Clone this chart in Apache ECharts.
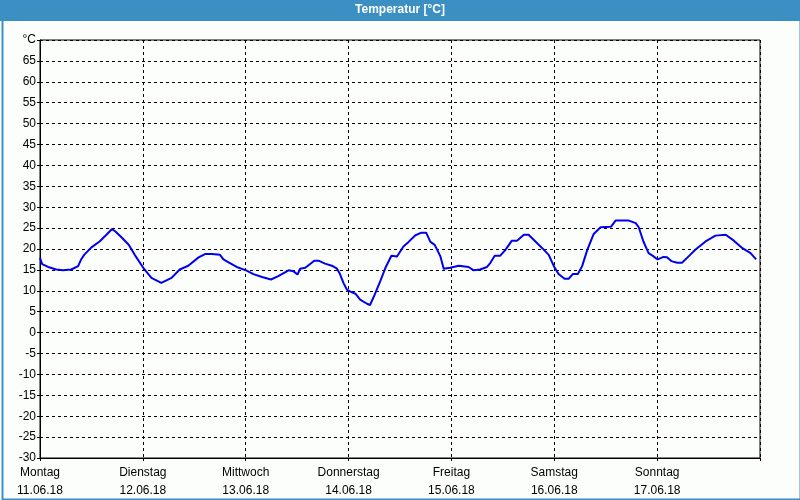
<!DOCTYPE html>
<html>
<head>
<meta charset="utf-8">
<script src="https://cdn.jsdelivr.net/npm/echarts@6/dist/echarts.min.js"></script>
<style>
html,body{margin:0;padding:0;background:#fcfefc;}
#c{width:800px;height:500px;}
</style>
</head>
<body>
<div id="c"></div>
<script>
// Hours since Monday 11.06.18 00:00
const hours = [0,0.5,1.9,3.8,5.4,7.3,8.9,9.6,10.3,12,13.9,15.5,16.8,17.6,19,20.7,22.1,24.1,26,28.3,30.7,32.6,34.6,37,38.5,40.1,42,42.8,44,45.9,48.1,49.8,51.8,53.9,55.6,58,59.1,60.1,60.7,61.9,64,65,66.5,68.1,69.3,70,70.8,71.6,72.4,73.6,74.7,76.3,77,78.1,79.4,80.6,82,83.3,84.8,86,87.6,89,90.1,91.1,92.1,93.4,94.2,95.7,97.7,100,101.2,102.7,104.3,105.1,106.1,107.4,108.6,110.1,111.3,112.9,114,115.6,117.2,118.7,120,121,122.4,123.4,124.3,125.5,126.5,127.7,129.2,130.8,133.2,134.3,137.4,139,139.7,140.8,142,143.1,144.1,145.5,146.3,147.3,148.7,149.8,151.4,152.9,155.3,157.6,160,161.9,163.9,165.8,167.1];
const temps = [17.9,16.4,15.7,15.1,14.9,15.1,15.9,17.5,18.6,20.4,21.8,23.4,24.8,24.2,22.8,21.0,18.6,15.5,13.1,11.9,13.1,15.1,16.0,18.0,18.8,18.8,18.6,17.5,16.8,15.7,14.9,14.0,13.3,12.7,13.5,14.9,14.7,13.9,15.3,15.5,17.2,17.2,16.5,16.0,15.3,14.0,11.9,10.3,9.8,9.3,7.9,6.9,6.6,9.1,12.3,15.5,18.4,18.2,20.6,21.7,23.3,23.9,23.9,21.7,21.0,18.3,15.3,15.5,16.0,15.7,14.9,15.1,15.7,16.7,18.4,18.4,19.8,22.0,22.0,23.4,23.4,21.8,20.2,18.6,15.7,14.0,12.9,12.9,14.0,14.0,15.9,19.8,23.6,25.2,25.3,26.8,26.8,26.2,25.2,21.8,19.0,18.3,17.5,18.1,18.0,17.1,16.7,16.7,18.3,19.8,21.8,23.2,23.4,22.0,20.2,19.0,17.5];
const dayNames = ['Montag','Dienstag','Mittwoch','Donnerstag','Freitag','Samstag','Sonntag'];
const dayDates = ['11.06.18','12.06.18','13.06.18','14.06.18','15.06.18','16.06.18','17.06.18'];
const titleText = 'Temperatur [°C]';
const unitLabel = '°C';

const chart = echarts.init(document.getElementById('c'));
const font = 'Liberation Sans, Arial, sans-serif';
chart.setOption({
  backgroundColor: '#fcfefc',
  animation: false,
  graphic: [
    {type:'rect', left:0, top:0, shape:{width:800, height:21}, style:{fill:'#3b8fc3'}, z:10},
    {type:'rect', left:0, top:0, shape:{x:1, y:1, width:798, height:497}, style:{fill:'none', stroke:'#3b8fc3', lineWidth:2}, z:10},
    {type:'text', left:'center', top:4, style:{text:titleText, fill:'#ffffff', font:'bold 12px ' + font}, z:11}
  ],
  grid: {left:40, right:40, top:40, bottom:39, show:true, borderColor:'#000', borderWidth:1, backgroundColor:'transparent'},
  xAxis: {
    type:'value', min:0, max:168, interval:24,
    axisLine:{show:true, onZero:false, lineStyle:{color:'#000', width:1}},
    axisTick:{show:true, length:3, lineStyle:{color:'#000'}},
    splitLine:{show:true, lineStyle:{color:'#000', type:[3,3], width:1}},
    axisLabel:{
      color:'#000', fontFamily:font, fontSize:12, lineHeight:18, margin:6,
      formatter: function(v){ const i = Math.round(v/24); return i < dayNames.length ? dayNames[i] + '\n' + dayDates[i] : ''; }
    }
  },
  yAxis: {
    type:'value', min:-30, max:70, interval:5,
    axisLine:{show:true, onZero:false, lineStyle:{color:'#000', width:1}},
    axisTick:{show:true, length:3, lineStyle:{color:'#000'}},
    splitLine:{show:true, lineStyle:{color:'#000', type:[3,3], width:1}},
    axisLabel:{
      color:'#000', fontFamily:font, fontSize:12, margin:4,
      formatter: function(v){ return v === 70 ? unitLabel : String(v); }
    }
  },
  series: [{
    type:'line',
    data: hours.map((h,i)=>[h, temps[i]]),
    showSymbol:false, symbol:'none',
    lineStyle:{color:'#0000ee', width:2},
    smooth:false
  }]
});
</script>
</body>
</html>
